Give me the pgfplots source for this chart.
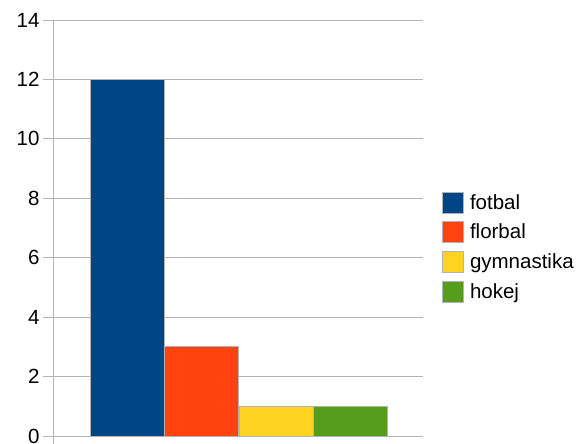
\documentclass[border=0pt]{standalone}
\usepackage{pgfplots}
\pgfplotsset{compat=1.18}
\usepackage{fontspec}
\setmainfont{Liberation Sans}
\definecolor{c1}{HTML}{004586}
\definecolor{c2}{HTML}{FF420E}
\definecolor{c3}{HTML}{FFD320}
\definecolor{c4}{HTML}{579D1C}
\definecolor{gr}{HTML}{B3B3B3}
\begin{document}
\begin{tikzpicture}
\begin{axis}[
  name=ax,
  scale only axis,
  width=370pt, height=416pt,
  xmin=53, xmax=423,
  ymin=0, ymax=14,
  ytick={0,2,...,14},
  xtick={53},
  xticklabels={},
  axis x line=bottom, axis y line=left,
  axis line style={gr, line width=0.8pt, -},
  tick align=outside,
  major tick length=10pt,
  xtick style={gr, line width=0.8pt},
  ytick style={gr, line width=0.8pt},
  ymajorgrids,
  grid style={gr, line width=0.8pt},
  ticklabel style={font=\fontsize{20.5}{24}\selectfont},
  /pgf/number format/assume math mode=true,
  ybar, bar shift=0pt, bar width=74,
  every axis plot/.append style={draw=gr, line width=0.8pt},
  legend style={at={(rel axis cs:1,0.454)}, anchor=west, xshift=19pt, draw=none, fill=none,
    font=\fontsize{20.5}{24}\selectfont, row sep=8pt, inner sep=0pt,
    /tikz/every even column/.append style={column sep=0pt}},
  legend cell align=left,
  legend image code/.code={\draw[#1] (0pt,-10.5pt) rectangle (21pt,10.5pt); \path (25pt,0pt);},
  clip=false,
]
\addplot[fill=c1, draw=gr] coordinates {(127,12)};
\addplot[fill=c2, draw=gr] coordinates {(201.5,3)};
\addplot[fill=c3, draw=gr] coordinates {(276,1)};
\addplot[fill=c4, draw=gr] coordinates {(350,1)};
\legend{fotbal,florbal,gymnastika,hokej}
\end{axis}
\pgfresetboundingbox
\path ([shift={(-53pt,-8pt)}]ax.south west) rectangle ([shift={(529pt,436pt)}]ax.south west);
\end{tikzpicture}
\end{document}
